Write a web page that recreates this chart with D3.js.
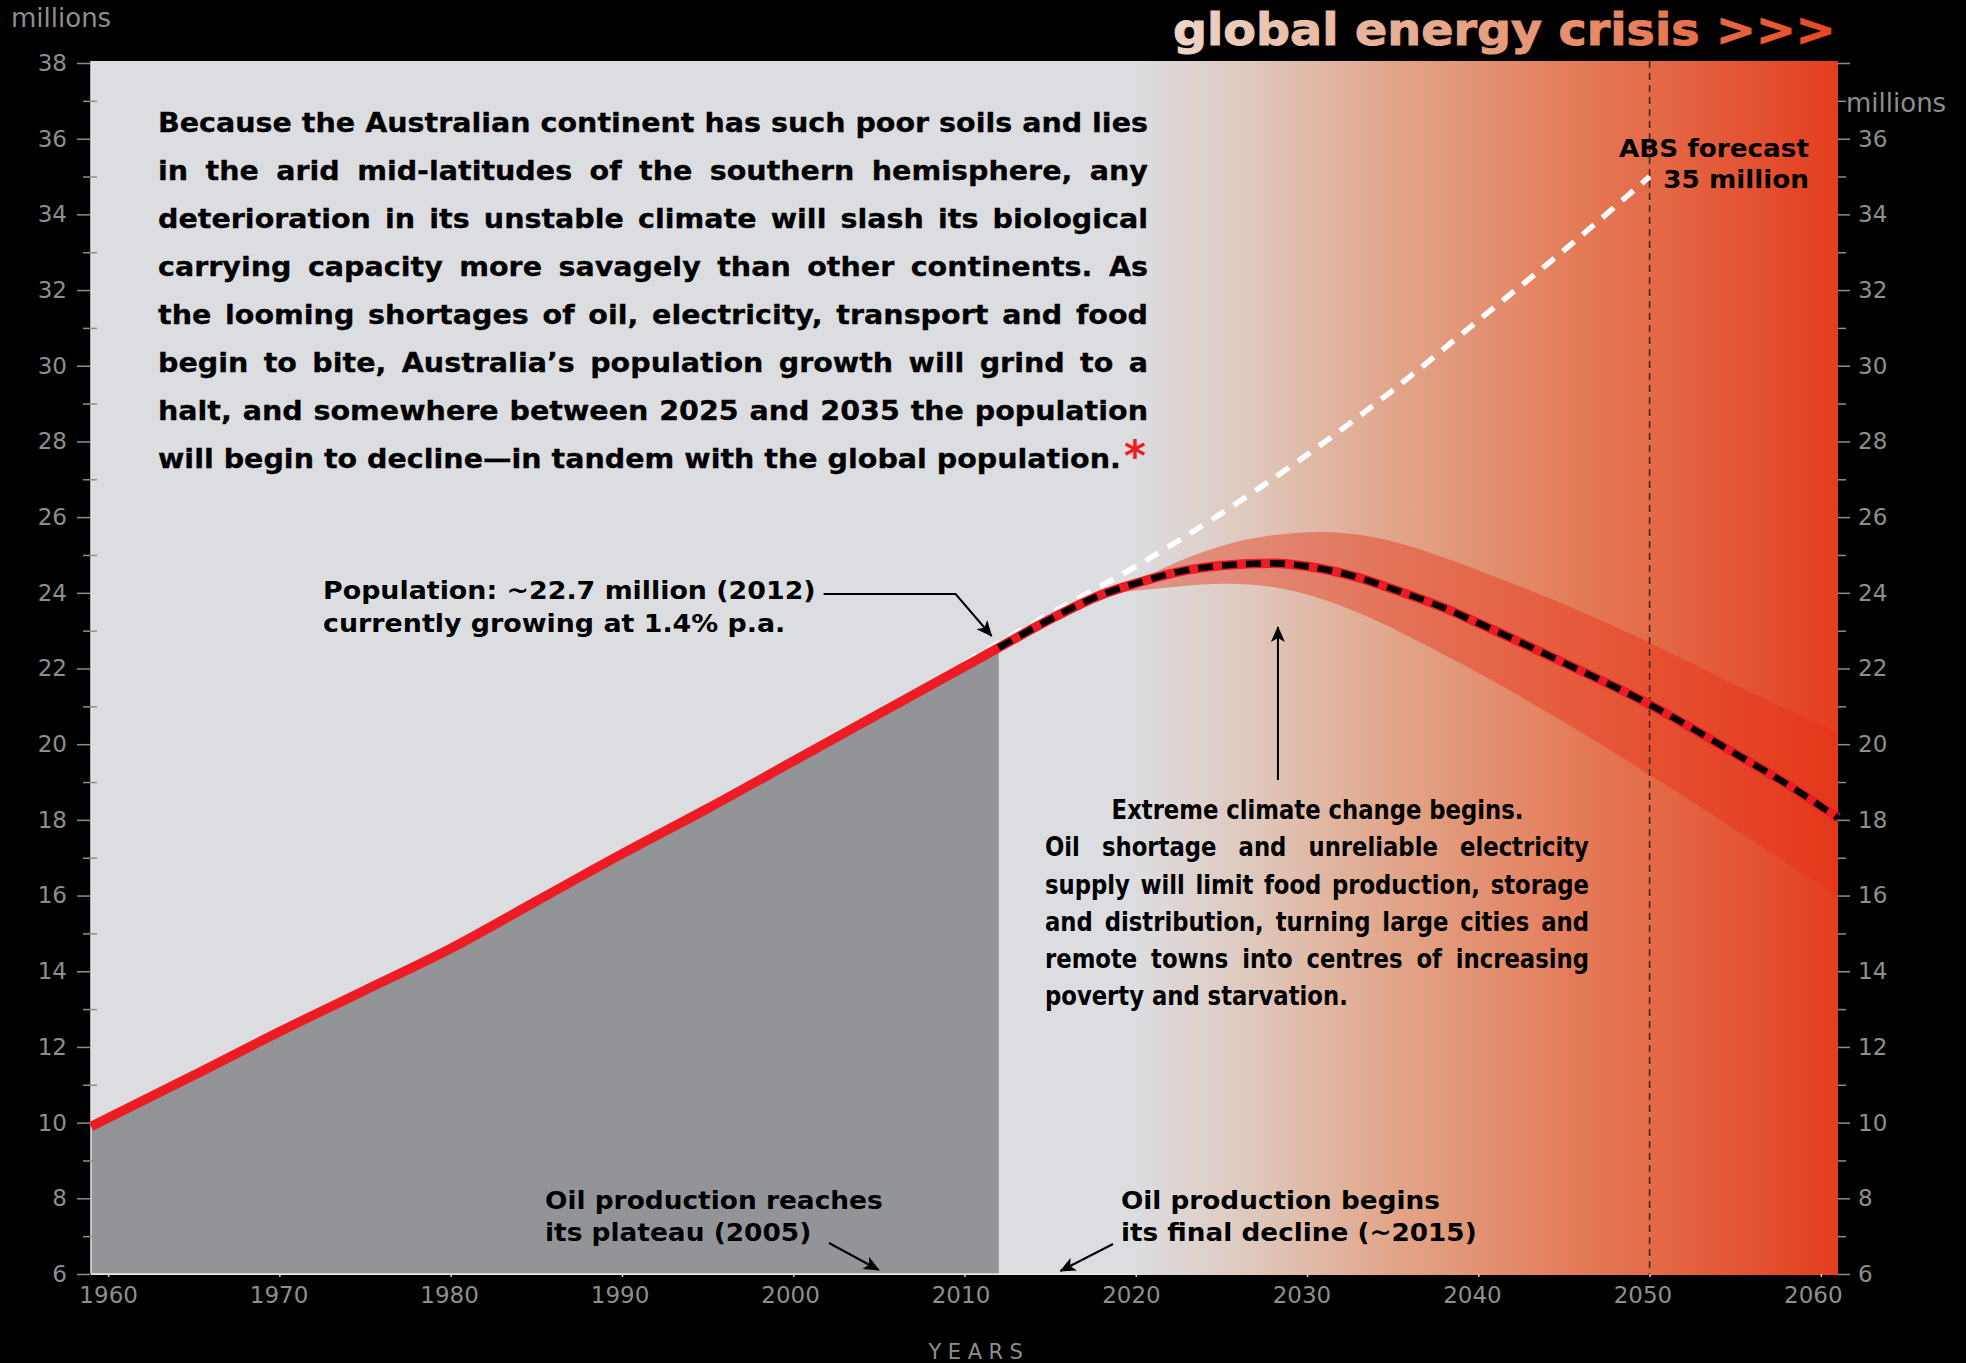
<!DOCTYPE html>
<html><head><meta charset="utf-8">
<script src="https://cdn.jsdelivr.net/npm/d3@7"></script>
<style>html,body{margin:0;padding:0;background:#000;} svg{display:block;}</style>
</head><body>
<svg id="chart" width="1966" height="1363"></svg>
<script>
// ---------------- data ----------------
const histYears = [1959, 1965, 1970, 1975, 1980, 1985, 1990, 1995, 2000, 2005, 2010, 2012];
const histPop   = [9.9, 11.25, 12.4, 13.5, 14.6, 15.85, 17.1, 18.3, 19.55, 20.8, 22.05, 22.55];

const fcYears = [2012, 2015, 2018, 2020, 2023, 2025, 2028, 2030, 2033, 2035, 2038, 2040, 2045, 2050, 2055, 2058, 2061];
const fcPop   = [22.55, 23.3, 23.95, 24.25, 24.6, 24.72, 24.78, 24.7, 24.4, 24.1, 23.6, 23.2, 22.15, 21.05, 19.75, 18.95, 18.05];

const absYears = [2010, 2015, 2020, 2025, 2030, 2035, 2040, 2045, 2050];
const absPop   = [22.15, 23.45, 24.7, 26.1, 27.65, 29.35, 31.2, 33.05, 35.0];

const bandYears = [2018.5, 2020, 2022, 2025, 2028, 2031, 2034, 2037, 2040, 2045, 2050, 2055, 2061];
const bandUpper = [24.0, 24.3, 24.75, 25.28, 25.55, 25.65, 25.5, 25.1, 24.6, 23.72, 22.7, 21.55, 20.3];
const bandLower = [24.0, 24.05, 24.15, 24.27, 24.2, 23.85, 23.3, 22.6, 21.9, 20.6, 19.2, 17.75, 16.0];

const bgYears  = [2020, 2027, 2035, 2045, 2050, 2061];
const bgColors = ["#dcdde0", "#dfc7bb", "#e1a68a", "#e47e5c", "#e46b48", "#e23e1f"];

const yTicksMajor = d3.range(6, 39, 2);
const yTicksMinor = d3.range(7, 38, 2);
const xTicks = d3.range(1960, 2061, 10);

const ABS_YEAR = 2050;

// ---------------- setup ----------------
const svg = d3.select("#chart");
svg.append("rect").attr("width", 1966).attr("height", 1363).attr("fill", "#000");

const x = d3.scaleLinear().domain([1959, 2061]).range([91, 1838]);
const y = d3.scaleLinear().domain([6, 38]).range([1274, 63]);

const defs = svg.append("defs");
const bg = defs.append("linearGradient").attr("id", "bgGrad")
  .attr("gradientUnits", "userSpaceOnUse")
  .attr("x1", x(1959)).attr("x2", x(2061)).attr("y1", 0).attr("y2", 0);
const span = x(2061) - x(1959);
bg.append("stop").attr("offset", 0).attr("stop-color", bgColors[0]);
bgYears.forEach((yr, i) => bg.append("stop").attr("offset", (x(yr) - x(1959)) / span).attr("stop-color", bgColors[i]));

const tg = defs.append("linearGradient").attr("id", "titleGrad").attr("x1", 0).attr("x2", 1).attr("y1", 0).attr("y2", 0);
[[0, "#ecd5c8"], [0.35, "#e6ae93"], [0.68, "#e68560"], [1, "#e5461f"]].forEach(s =>
  tg.append("stop").attr("offset", s[0]).attr("stop-color", s[1]));

const mk = defs.append("marker").attr("id", "arrow").attr("viewBox", "0 0 16 14")
  .attr("refX", 15).attr("refY", 7).attr("markerWidth", 16).attr("markerHeight", 14)
  .attr("markerUnits", "userSpaceOnUse").attr("orient", "auto");
mk.append("path").attr("d", "M0,0 L16,7 L0,14 L4,7 Z").attr("fill", "#000");

// plot background
svg.append("rect").attr("x", x(1959)).attr("y", y(38) - 2).attr("width", x(2061) - x(1959))
  .attr("height", y(6) - y(38) + 3).attr("fill", "url(#bgGrad)");

const hist = histYears.map((d, i) => ({ year: d, v: histPop[i] }));
const fc = fcYears.map((d, i) => ({ year: d, v: fcPop[i] }));
const abs = absYears.map((d, i) => ({ year: d, v: absPop[i] }));
const band = bandYears.map((d, i) => ({ year: d, hi: bandUpper[i], lo: bandLower[i] }));

// gray area under history
svg.append("path").datum(hist)
  .attr("d", d3.area().x(d => x(d.year)).y0(y(6)).y1(d => y(d.v) + 2).curve(d3.curveMonotoneX))
  .attr("fill", "#939498");

// axis lines (light)
svg.append("line").attr("x1", x(1959)).attr("x2", x(2020)).attr("y1", y(6)).attr("y2", y(6))
  .attr("stroke", "#e8e8e8").attr("stroke-width", 1.5);
svg.append("line").attr("x1", x(1959)).attr("x2", x(1959)).attr("y1", y(38) - 2).attr("y2", y(6))
  .attr("stroke", "#e4e4e4").attr("stroke-width", 1.5);

// uncertainty band
svg.append("path").datum(band)
  .attr("d", d3.area().x(d => x(d.year)).y0(d => y(d.lo)).y1(d => y(d.hi)).curve(d3.curveBasis))
  .attr("fill", "rgba(232,45,20,0.42)");

// 2050 dashed vertical
svg.append("line").attr("x1", x(ABS_YEAR)).attr("x2", x(ABS_YEAR)).attr("y1", y(38) - 2).attr("y2", y(6) + 2)
  .attr("stroke", "#3a2a25").attr("stroke-width", 1.6).attr("stroke-dasharray", "7,5");

// ABS white dashed
svg.append("path").datum(abs)
  .attr("d", d3.line().x(d => x(d.year)).y(d => y(d.v)).curve(d3.curveMonotoneX))
  .attr("fill", "none").attr("stroke", "#fff").attr("stroke-width", 5.5).attr("stroke-dasharray", "15,11");

// red line (history + forecast)
const all = hist.concat(fc.slice(1));
svg.append("path").datum(all)
  .attr("d", d3.line().x(d => x(d.year)).y(d => y(d.v)).curve(d3.curveMonotoneX))
  .attr("fill", "none").attr("stroke", "#ed1c24").attr("stroke-width", 9.5).attr("stroke-linejoin", "round");

// black dashes on forecast
svg.append("path").datum(fc)
  .attr("d", d3.line().x(d => x(d.year)).y(d => y(d.v)).curve(d3.curveMonotoneX))
  .attr("fill", "none").attr("stroke", "#000").attr("stroke-width", 6.5).attr("stroke-dasharray", "15,9");

// ---------------- axes ----------------
const axisColor = "#8e8e8e";
function styleAxis(g, fs) {
  g.select(".domain").remove();
  g.selectAll(".tick line").attr("stroke", axisColor).attr("stroke-width", 1.5);
  g.selectAll(".tick text").attr("fill", axisColor).attr("font-size", fs)
    .attr("font-family", "'DejaVu Sans', Verdana, sans-serif");
}
const gl = svg.append("g").attr("transform", "translate(90,0)")
  .call(d3.axisLeft(y).tickValues(yTicksMajor).tickSize(13).tickPadding(10).tickFormat(d3.format("d")));
styleAxis(gl, 23);
const glm = svg.append("g").attr("transform", "translate(97,0)")
  .call(d3.axisLeft(y).tickValues(yTicksMinor).tickSize(14).tickFormat(""));
styleAxis(glm, 23);

const gr = svg.append("g").attr("transform", `translate(${x(2061)},0)`)
  .call(d3.axisRight(y).tickValues(yTicksMajor).tickSize(12).tickPadding(8).tickFormat(d => d === 38 ? "" : d));
styleAxis(gr, 23);
const grm = svg.append("g").attr("transform", `translate(${x(2061)},0)`)
  .call(d3.axisRight(y).tickValues(yTicksMinor).tickSize(8).tickFormat(""));
styleAxis(grm, 23);

const gx = svg.append("g").attr("transform", `translate(0,${y(6)})`)
  .call(d3.axisBottom(x).tickValues(xTicks).tickSize(3).tickPadding(10).tickFormat(d3.format("d")));
styleAxis(gx, 23);
gx.selectAll(".tick line").attr("stroke", "#d8d8d8");
gx.selectAll(".tick text").attr("dx", d => -(d - 1960) * 0.08);

svg.append("text").attr("x", 11).attr("y", 27).attr("fill", axisColor).attr("font-size", 26)
  .attr("font-family", "'DejaVu Sans', Verdana, sans-serif").text("millions");
svg.append("text").attr("x", 1846).attr("y", 112).attr("fill", axisColor).attr("font-size", 26)
  .attr("font-family", "'DejaVu Sans', Verdana, sans-serif").text("millions");
svg.append("text").attr("x", 979).attr("y", 1359).attr("fill", axisColor).attr("font-size", 21)
  .attr("letter-spacing", 6.5).attr("text-anchor", "middle")
  .attr("font-family", "'DejaVu Sans', Verdana, sans-serif").text("YEARS");

// ---------------- text helpers ----------------
const WIDE = "'DejaVu Sans', Verdana, sans-serif";
const COND = "'DejaVu Sans Condensed', 'DejaVu Sans', Tahoma, sans-serif";
function measure(str, fam, size) {
  const t = svg.append("text").attr("font-family", fam).attr("font-weight", "bold").attr("font-size", size).text(str);
  const w = t.node().getComputedTextLength(); t.remove(); return w;
}
// lines: [{t, x, y, w, mode}] mode: "left" | "justify" | "center" | "end"
function block(lines, fam, size, fill, refIdx, stroke) {
  const r = lines[refIdx];
  const s = r.w / measure(r.t, fam, size);
  lines.forEach(L => {
    const g = svg.append("g").attr("transform", `translate(${L.x},${L.y}) scale(${s},1)`);
    const t = g.append("text").attr("font-family", fam).attr("font-weight", "bold").attr("font-size", size).attr("fill", fill);
    if (stroke) t.attr("stroke", fill).attr("stroke-width", stroke);
    if (L.mode === "justify") {
      const words = L.t.split(" ");
      const ws = words.map(w => measure(w, fam, size));
      const gap = (L.w / s - d3.sum(ws)) / (words.length - 1);
      let cx = 0;
      words.forEach((w, i) => { t.append("tspan").attr("x", cx).text(w); cx += ws[i] + gap; });
    } else {
      t.text(L.t);
      if (L.mode === "center") t.attr("text-anchor", "middle");
      if (L.mode === "end") t.attr("text-anchor", "end");
    }
  });
  return s;
}

// main paragraph
const para = [
  "Because the Australian continent has such poor soils and lies",
  "in the arid mid-latitudes of the southern hemisphere, any",
  "deterioration in its unstable climate will slash its biological",
  "carrying capacity more savagely than other continents. As",
  "the looming shortages of oil, electricity, transport and food",
  "begin to bite, Australia’s population growth will grind to a",
  "halt, and somewhere between 2025 and 2035 the population",
  "will begin to decline—in tandem with the global population."
];
block(para.map((t, i) => ({ t, x: 158, y: 132 + 48 * i, w: i < 7 ? 990 : 963, mode: i < 7 ? "justify" : "left" })),
  WIDE, 26, "#000", 7, 0.3);
svg.append("text").attr("x", 1124).attr("y", 471).attr("font-family", WIDE).attr("font-weight", "bold")
  .attr("font-size", 42).attr("fill", "#ee1c25").text("*");

// title
block([{ t: "global energy crisis >>>", x: 1173, y: 45, w: 663, mode: "left" }], WIDE, 45, "url(#titleGrad)", 0, 1);

// ABS forecast
block([{ t: "ABS forecast", x: 1809, y: 157, w: 190, mode: "end" },
       { t: "35 million", x: 1809, y: 188, w: 146, mode: "end" }], COND, 24, "#000", 0);

// population annotation
block([{ t: "Population: ~22.7 million (2012)", x: 323, y: 599, w: 493, mode: "left" },
       { t: "currently growing at 1.4% p.a.", x: 323, y: 632, w: 461, mode: "left" }], COND, 24, "#000", 0);
svg.append("path")
  .attr("d", `M${x(2011.7) - 170},594 L${x(2011.7) - 38},594 L${x(2011.7) - 2},${y(22.7) - 6}`)
  .attr("fill", "none").attr("stroke", "#000").attr("stroke-width", 2).attr("marker-end", "url(#arrow)");

// oil annotations
block([{ t: "Oil production reaches", x: 545, y: 1209, w: 338, mode: "left" },
       { t: "its plateau (2005)", x: 545, y: 1241, w: 272, mode: "left" }], COND, 24, "#000", 0);
svg.append("path").attr("d", `M829,1243 L${x(2005)},${y(6) - 4}`)
  .attr("stroke", "#000").attr("stroke-width", 2).attr("marker-end", "url(#arrow)");
block([{ t: "Oil production begins", x: 1121, y: 1209, w: 319, mode: "left" },
       { t: "its final decline (~2015)", x: 1121, y: 1241, w: 363, mode: "left" }], COND, 24, "#000", 0);
svg.append("path").attr("d", `M1113,1244 L${x(2015.6)},${y(6) - 3}`)
  .attr("stroke", "#000").attr("stroke-width", 2).attr("marker-end", "url(#arrow)");

// climate annotation
svg.append("path").attr("d", `M${x(2028.3)},780 L${x(2028.3)},627`)
  .attr("stroke", "#000").attr("stroke-width", 2).attr("marker-end", "url(#arrow)");
const clim = [
  { t: "Extreme climate change begins.", x: 1317.5, y: 819, w: 413, mode: "center" },
  { t: "Oil shortage and unreliable electricity", x: 1045, y: 856, w: 544, mode: "justify" },
  { t: "supply will limit food production, storage", x: 1045, y: 893.5, w: 544, mode: "justify" },
  { t: "and distribution, turning large cities and", x: 1045, y: 931, w: 544, mode: "justify" },
  { t: "remote towns into centres of increasing", x: 1045, y: 968, w: 544, mode: "justify" },
  { t: "poverty and starvation.", x: 1045, y: 1005, w: 303, mode: "left" }
];
block(clim, COND, 26, "#000", 5);
</script>
</body></html>
